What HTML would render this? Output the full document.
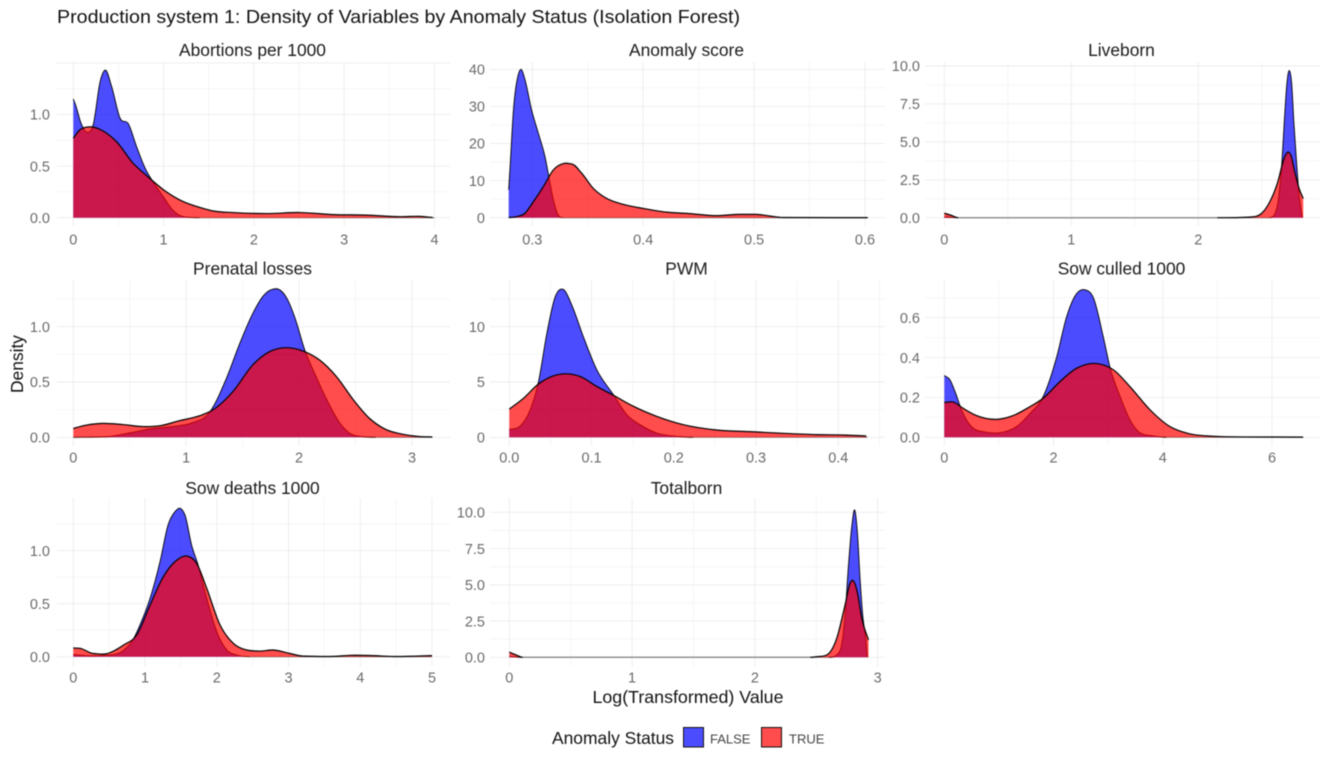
<!DOCTYPE html>
<html lang="en">
<head>
<meta charset="utf-8">
<title>Production system 1: Density of Variables by Anomaly Status</title>
<style>
  html, body { margin: 0; padding: 0; background: #fff; width: 1325px; height: 760px; overflow: hidden; }
  svg { display: block; filter: blur(0.45px); font-family: "Liberation Sans", Arial, sans-serif; }
</style>
</head>
<body>
<svg id="chart" xmlns="http://www.w3.org/2000/svg" width="1325" height="760" viewBox="0 0 1325 760">
  <text x="57" y="23" font-size="18.6" fill="#111" textLength="683" lengthAdjust="spacingAndGlyphs">Production system 1: Density of Variables by Anomaly Status (Isolation Forest)</text>
  <text x="0" y="0" transform="translate(23,364) rotate(-90)" text-anchor="middle" font-size="17.4" fill="#111">Density</text>
  <text x="688" y="703" text-anchor="middle" font-size="17.8" fill="#111" textLength="191" lengthAdjust="spacingAndGlyphs">Log(Transformed) Value</text>
  <g>
    <text x="552" y="744" font-size="17.4" fill="#111" textLength="122" lengthAdjust="spacingAndGlyphs">Anomaly Status</text>
    <rect x="683.5" y="727.5" width="20" height="19.5" fill="#0000ff" fill-opacity="0.7" stroke="#111" stroke-width="1"/>
    <text x="710" y="743.5" font-size="13" fill="#444">FALSE</text>
    <rect x="761.5" y="727.5" width="20" height="19.5" fill="#ff0000" fill-opacity="0.7" stroke="#111" stroke-width="1"/>
    <text x="789" y="743.5" font-size="13" fill="#444">TRUE</text>
  </g>
</svg>
<script>
// ---- Tick labels ----
const abortionsXTicks = [0, 1, 2, 3, 4];
const abortionsYTicks = [0, 0.5, 1];
const anomalyXTicks = [0.3, 0.4, 0.5, 0.6];
const anomalyYTicks = [0, 10, 20, 30, 40];
const liveXTicks = [0, 1, 2];
const liveYTicks = [0, 2.5, 5, 7.5, 10];
const prenatalXTicks = [0, 1, 2, 3];
const prenatalYTicks = [0, 0.5, 1];
const pwmXTicks = [0, 0.1, 0.2, 0.3, 0.4];
const pwmYTicks = [0, 5, 10];
const culledXTicks = [0, 2, 4, 6];
const culledYTicks = [0, 0.2, 0.4, 0.6];
const deathsXTicks = [0, 1, 2, 3, 4, 5];
const deathsYTicks = [0, 0.5, 1];
const totalXTicks = [0, 1, 2, 3];
const totalYTicks = [0, 2.5, 5, 7.5, 10];

// ---- Density series ----
const abortionsFalseX = [0, 0.03, 0.08, 0.15, 0.22, 0.3, 0.355, 0.425, 0.52, 0.61, 0.7, 0.79, 0.92, 1, 1.1, 1.22, 1.4, 4];
const abortionsFalseY = [1.15, 1.08, 0.93, 0.83, 0.9, 1.33, 1.43, 1.27, 0.96, 0.91, 0.69, 0.49, 0.3, 0.2, 0.075, 0.01, 0, 0];
const abortionsTrueX = [0, 0.07, 0.2, 0.33, 0.48, 0.665, 0.81, 1, 1.22, 1.4, 1.55, 1.77, 2.14, 2.51, 2.88, 3.25, 3.62, 3.84, 3.98];
const abortionsTrueY = [0.77, 0.85, 0.88, 0.84, 0.735, 0.525, 0.41, 0.27, 0.155, 0.1, 0.065, 0.05, 0.04, 0.05, 0.03, 0.025, 0.01, 0.013, 0.002];

const anomalyFalseX = [0.2787, 0.28, 0.283, 0.2874, 0.29, 0.2934, 0.2994, 0.3054, 0.3114, 0.316, 0.319, 0.3234, 0.328, 0.6025];
const anomalyFalseY = [7.5, 13.8, 29, 38.6, 40, 37.2, 29, 22.8, 16.5, 9.3, 4.8, 0.7, 0, 0];
const anomalyTrueX = [0.2787, 0.286, 0.2934, 0.3, 0.31, 0.319, 0.328, 0.3355, 0.3445, 0.355, 0.367, 0.382, 0.4, 0.421, 0.442, 0.466, 0.487, 0.502, 0.514, 0.526, 0.6025];
const anomalyTrueY = [0.02, 0.3, 1.2, 3.9, 8.4, 12.9, 14.6, 14.5, 12, 7.9, 5.2, 3.6, 2.5, 1.5, 1.1, 0.55, 0.9, 0.9, 0.45, 0.05, 0.02];

const liveFalseX = [0, 0.05, 0.11, 2.56, 2.62, 2.656, 2.68, 2.695, 2.717, 2.735, 2.753, 2.774, 2.795, 2.82];
const liveFalseY = [0.05, 0.02, 0, 0, 0.7, 3.4, 6.7, 8.6, 9.7, 8.85, 6.2, 3.6, 1.4, 0];
const liveTrueX = [0, 0.05, 0.11, 2.15, 2.4, 2.5, 2.56, 2.62, 2.68, 2.7, 2.73, 2.76, 2.795, 2.826];
const liveTrueY = [0.3, 0.17, 0, 0, 0.04, 0.3, 1, 2.2, 4, 4.3, 4.1, 3, 1.9, 1.27];

const prenatalFalseX = [0, 0.3, 0.5, 0.7, 0.9, 1.05, 1.21, 1.357, 1.475, 1.59, 1.68, 1.755, 1.815, 1.89, 1.96, 2.05, 2.15, 2.26, 2.36, 2.45, 2.57, 2.68, 3.18];
const prenatalFalseY = [0, 0.005, 0.04, 0.08, 0.1, 0.13, 0.23, 0.535, 0.85, 1.12, 1.275, 1.335, 1.34, 1.26, 1.09, 0.79, 0.55, 0.31, 0.13, 0.035, 0.005, 0, 0];
const prenatalTrueX = [0, 0.09, 0.235, 0.44, 0.62, 0.77, 0.94, 1.12, 1.24, 1.415, 1.59, 1.74, 1.89, 2.035, 2.18, 2.33, 2.48, 2.625, 2.77, 2.92, 3.07, 3.18];
const prenatalTrueY = [0.08, 0.105, 0.125, 0.115, 0.097, 0.105, 0.15, 0.195, 0.25, 0.415, 0.655, 0.775, 0.81, 0.78, 0.7, 0.55, 0.34, 0.17, 0.07, 0.027, 0.006, 0.003];

const pwmFalseX = [0, 0.013, 0.0255, 0.0356, 0.0457, 0.0558, 0.066, 0.076, 0.09, 0.1064, 0.1266, 0.143, 0.159, 0.179, 0.2035, 0.2237, 0.4355];
const pwmFalseY = [0.7, 1, 2.5, 5.05, 9.4, 12.7, 13.36, 11.95, 9.1, 6.1, 3.85, 2.04, 1.14, 0.39, 0.09, 0, 0];
const pwmTrueX = [0, 0.0174, 0.0356, 0.0538, 0.07, 0.086, 0.1064, 0.1266, 0.151, 0.179, 0.2116, 0.252, 0.2925, 0.333, 0.373, 0.41, 0.434];
const pwmTrueY = [2.55, 3.54, 4.83, 5.56, 5.74, 5.5, 4.6, 3.8, 2.8, 1.9, 1.14, 0.66, 0.51, 0.36, 0.24, 0.2, 0.12];

const culledFalseX = [0, 0.104, 0.195, 0.317, 0.47, 0.714, 1.02, 1.325, 1.57, 1.81, 2.06, 2.24, 2.42, 2.58, 2.73, 2.91, 3.03, 3.22, 3.4, 3.58, 3.83, 4.07, 6.57];
const culledFalseY = [0.31, 0.288, 0.23, 0.137, 0.062, 0.028, 0.023, 0.054, 0.12, 0.204, 0.405, 0.605, 0.72, 0.74, 0.7, 0.505, 0.355, 0.204, 0.087, 0.023, 0.007, 0, 0];
const culledTrueX = [0, 0.165, 0.348, 0.59, 0.96, 1.26, 1.57, 1.81, 2.12, 2.42, 2.79, 3.1, 3.4, 3.77, 4.13, 4.5, 4.8, 5.11, 6.57];
const culledTrueY = [0.174, 0.177, 0.145, 0.109, 0.09, 0.109, 0.154, 0.196, 0.28, 0.346, 0.37, 0.338, 0.254, 0.137, 0.054, 0.017, 0.007, 0.003, 0.001];

const deathsFalseX = [0, 0.186, 0.51, 0.7, 0.84, 0.93, 1.07, 1.21, 1.32, 1.42, 1.487, 1.557, 1.65, 1.74, 1.86, 2, 2.14, 2.28, 2.46, 5];
const deathsFalseY = [0.02, 0.01, 0.015, 0.06, 0.17, 0.3, 0.55, 0.9, 1.24, 1.37, 1.4, 1.336, 1.05, 0.865, 0.55, 0.236, 0.063, 0.016, 0, 0];
const deathsTrueX = [0, 0.093, 0.28, 0.465, 0.7, 0.883, 1.07, 1.255, 1.44, 1.58, 1.72, 1.86, 2.045, 2.23, 2.416, 2.6, 2.79, 3.02, 3.2, 3.62, 3.86, 4.18, 4.46, 4.79, 5];
const deathsTrueY = [0.082, 0.079, 0.03, 0.028, 0.11, 0.204, 0.487, 0.755, 0.91, 0.95, 0.88, 0.645, 0.3, 0.126, 0.063, 0.053, 0.063, 0.03, 0.006, 0.003, 0.013, 0.01, 0.002, 0.006, 0.01];

const totalFalseX = [0, 0.05, 0.11, 2.6, 2.69, 2.734, 2.76, 2.79, 2.813, 2.834, 2.856, 2.878, 2.905, 2.915];
const totalFalseY = [0.05, 0.02, 0, 0, 0.4, 2.9, 6.1, 9.1, 10.15, 8.67, 5.45, 2.9, 1.1, 0];
const totalTrueX = [0, 0.05, 0.11, 2.45, 2.5, 2.585, 2.666, 2.734, 2.775, 2.8, 2.834, 2.87, 2.925];
const totalTrueY = [0.35, 0.18, 0, 0, 0.04, 0.16, 1.3, 3.6, 5.1, 5.3, 4.5, 2.7, 1.2];

// ---- Facet layout ----
const columns = [{ left: 57, right: 450, yLabel: 50 }, { left: 490, right: 885, yLabel: 485 }, { left: 925, right: 1320, yLabel: 920 }];
const rows = [
  { top: 62, bottom: 226, strip: 56, xLabel: 244.5 },
  { top: 280, bottom: 446, strip: 274.5, xLabel: 462.5 },
  { top: 498, bottom: 667, strip: 494, xLabel: 682.5 }
];
const facets = [
  { key: 'abortions', title: 'Abortions per 1000', col: 0, row: 0, xs: [0, 4, 73.3, 434.5], ys: [0, 1, 217.7, 114.5], xTicks: abortionsXTicks, yTicks: abortionsYTicks, yDigits: 1, xDigits: 0, fx: abortionsFalseX, fy: abortionsFalseY, tx: abortionsTrueX, ty: abortionsTrueY },
  { key: 'anomaly-score', title: 'Anomaly score', col: 1, row: 0, xs: [0.3, 0.6, 532.3, 865], ys: [0, 40, 217.7, 69.3], xTicks: anomalyXTicks, yTicks: anomalyYTicks, yDigits: 0, xDigits: 1, fx: anomalyFalseX, fy: anomalyFalseY, tx: anomalyTrueX, ty: anomalyTrueY },
  { key: 'liveborn', title: 'Liveborn', col: 2, row: 0, xs: [0, 2, 944.3, 1198.3], ys: [0, 10, 217.7, 66], xTicks: liveXTicks, yTicks: liveYTicks, yDigits: 1, xDigits: 0, fx: liveFalseX, fy: liveFalseY, tx: liveTrueX, ty: liveTrueY },
  { key: 'prenatal-losses', title: 'Prenatal losses', col: 0, row: 1, xs: [0, 3, 73.3, 412], ys: [0, 1, 437.3, 326.7], xTicks: prenatalXTicks, yTicks: prenatalYTicks, yDigits: 1, xDigits: 0, fx: prenatalFalseX, fy: prenatalFalseY, tx: prenatalTrueX, ty: prenatalTrueY },
  { key: 'pwm', title: 'PWM', col: 1, row: 1, xs: [0, 0.4, 509.3, 838.3], ys: [0, 10, 437.3, 326.7], xTicks: pwmXTicks, yTicks: pwmYTicks, yDigits: 0, xDigits: 1, fx: pwmFalseX, fy: pwmFalseY, tx: pwmTrueX, ty: pwmTrueY },
  { key: 'sow-culled', title: 'Sow culled 1000', col: 2, row: 1, xs: [0, 6, 944.3, 1272], ys: [0, 0.6, 437.3, 317.7], xTicks: culledXTicks, yTicks: culledYTicks, yDigits: 1, xDigits: 0, fx: culledFalseX, fy: culledFalseY, tx: culledTrueX, ty: culledTrueY },
  { key: 'sow-deaths', title: 'Sow deaths 1000', col: 0, row: 2, xs: [0, 5, 73.3, 432], ys: [0, 1, 656.7, 550.7], xTicks: deathsXTicks, yTicks: deathsYTicks, yDigits: 1, xDigits: 0, fx: deathsFalseX, fy: deathsFalseY, tx: deathsTrueX, ty: deathsTrueY },
  { key: 'totalborn', title: 'Totalborn', col: 1, row: 2, xs: [0, 3, 509.3, 877.7], ys: [0, 10, 657.3, 512.3], xTicks: totalXTicks, yTicks: totalYTicks, yDigits: 1, xDigits: 0, fx: totalFalseX, fy: totalFalseY, tx: totalTrueX, ty: totalTrueY }
];

const NS = 'http://www.w3.org/2000/svg';
const root = document.getElementById('chart');

function make(tag, parent) {
  const el = document.createElementNS(NS, tag);
  parent.appendChild(el);
  return el;
}
function linearScale(cal) {
  const k = (cal[3] - cal[2]) / (cal[1] - cal[0]);
  return function (v) { return cal[2] + (v - cal[0]) * k; };
}
function invertScale(cal, px) {
  return cal[0] + (px - cal[2]) * (cal[1] - cal[0]) / (cal[3] - cal[2]);
}

// Smooth cubic segments: three-point tangents, limited so curves stay tight to the points
function smoothSegments(px, py) {
  const n = px.length, d = [], m = [], segs = [];
  for (let i = 0; i < n - 1; i++) d.push((py[i + 1] - py[i]) / (px[i + 1] - px[i]));
  m.push(d[0]);
  for (let i = 1; i < n - 1; i++) {
    if (d[i - 1] === 0 || d[i] === 0) { m.push(0); continue; }
    const h0 = px[i] - px[i - 1], h1 = px[i + 1] - px[i];
    let t = (h1 * d[i - 1] + h0 * d[i]) / (h0 + h1);
    const limit = 3 * Math.min(Math.abs(d[i - 1]), Math.abs(d[i]));
    if (d[i - 1] * d[i] > 0 && Math.abs(t) > limit) t = Math.sign(t) * limit;
    m.push(t);
  }
  m.push(d[n - 2]);
  for (let i = 0; i < n - 1; i++) {
    const h = (px[i + 1] - px[i]) / 3;
    segs.push('C' + (px[i] + h).toFixed(2) + ',' + (py[i] + m[i] * h).toFixed(2) + ' ' +
      (px[i + 1] - h).toFixed(2) + ',' + (py[i + 1] - m[i + 1] * h).toFixed(2) + ' ' +
      px[i + 1].toFixed(2) + ',' + py[i + 1].toFixed(2));
  }
  return segs;
}

function drawSeries(group, f, xv, yv, x, y, fillColor, seriesName) {
  const px = xv.map(x), py = yv.map(y), segs = smoothSegments(px, py), base = y(0);
  const area = make('path', group);
  
  
  area.setAttribute('d', 'M' + px[0].toFixed(2) + ',' + base + 'L' + px[0].toFixed(2) + ',' + py[0].toFixed(2) + segs.join('') + 'L' + px[px.length - 1].toFixed(2) + ',' + base + 'Z');
  area.setAttribute('fill', fillColor);
  area.setAttribute('fill-opacity', '0.7');
  // Upper outline: stretches lying exactly on zero render lighter, as in the source
  let start = 0;
  while (start < segs.length) {
    const zero = yv[start] === 0 && yv[start + 1] === 0;
    let end = start;
    while (end + 1 < segs.length && (yv[end + 1] === 0 && yv[end + 2] === 0) === zero) end++;
    const line = make('path', group);
    
    
    line.setAttribute('d', 'M' + px[start].toFixed(2) + ',' + py[start].toFixed(2) + segs.slice(start, end + 1).join(''));
    line.setAttribute('fill', 'none');
    line.setAttribute('stroke', zero ? '#808080' : '#000');
    line.setAttribute('stroke-width', zero ? '1' : (seriesName === 'true' ? '1.2' : '0.9'));
    start = end + 1;
  }
}

facets.forEach(function (f) {
  const c = columns[f.col], r = rows[f.row];
  const x = linearScale(f.xs), y = linearScale(f.ys);
  const g = make('g', root);
  
  

  const strip = make('text', g);
  
  
  strip.setAttribute('x', (c.left + c.right) / 2 - 1);
  strip.setAttribute('y', r.strip);
  strip.setAttribute('text-anchor', 'middle');
  strip.setAttribute('font-size', '17.4');
  strip.setAttribute('fill', '#1a1a1a');
  strip.textContent = f.title;

  // Grid: majors at ticks, minors half way between
  const xStep = f.xTicks[1] - f.xTicks[0], yStep = f.yTicks[1] - f.yTicks[0];
  const xLo = invertScale(f.xs, c.left), xHi = invertScale(f.xs, c.right);
  for (let i = Math.ceil((xLo - f.xTicks[0]) / (xStep / 2)); f.xTicks[0] + i * xStep / 2 <= xHi; i++) {
    const v = f.xTicks[0] + i * xStep / 2;
    const line = make('line', g);
    
    
    line.setAttribute('x1', x(v)); line.setAttribute('x2', x(v));
    line.setAttribute('y1', r.top); line.setAttribute('y2', r.bottom);
    line.setAttribute('stroke', i % 2 === 0 ? '#ececec' : '#f3f3f3');
    line.setAttribute('stroke-width', i % 2 === 0 ? '0.9' : '0.8');
  }
  const yLo = invertScale(f.ys, r.bottom), yHi = invertScale(f.ys, r.top);
  for (let i = Math.ceil((yLo - f.yTicks[0]) / (yStep / 2)); f.yTicks[0] + i * yStep / 2 <= yHi; i++) {
    const v = f.yTicks[0] + i * yStep / 2;
    const line = make('line', g);
    
    
    line.setAttribute('x1', c.left); line.setAttribute('x2', c.right);
    line.setAttribute('y1', y(v)); line.setAttribute('y2', y(v));
    line.setAttribute('stroke', i % 2 === 0 ? '#ececec' : '#f3f3f3');
    line.setAttribute('stroke-width', i % 2 === 0 ? '0.9' : '0.8');
  }

  f.xTicks.forEach(function (t) {
    const label = make('text', g);
    
    
    label.setAttribute('x', x(t));
    label.setAttribute('y', r.xLabel);
    label.setAttribute('text-anchor', 'middle');
    label.setAttribute('font-size', '14.5');
    label.setAttribute('fill', '#6a6a6a');
    label.textContent = t.toFixed(f.xDigits);
  });
  f.yTicks.forEach(function (t) {
    const label = make('text', g);
    
    
    label.setAttribute('x', c.yLabel);
    label.setAttribute('y', y(t) + 5.2);
    label.setAttribute('text-anchor', 'end');
    label.setAttribute('font-size', '14.5');
    label.setAttribute('fill', '#6a6a6a');
    label.textContent = t.toFixed(f.yDigits);
  });

  drawSeries(g, f, f.fx, f.fy, x, y, '#0000ff', 'false');
  drawSeries(g, f, f.tx, f.ty, x, y, '#ff0000', 'true');
});
</script>
</body>
</html>
